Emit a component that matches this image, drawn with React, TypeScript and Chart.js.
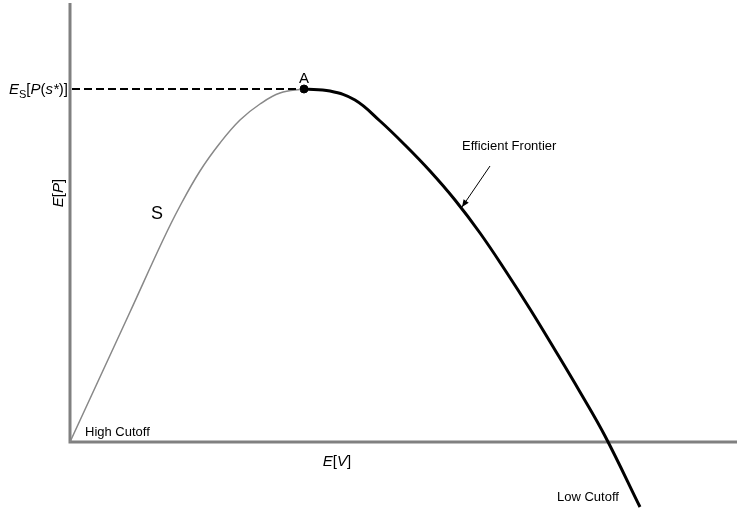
import React, { useEffect, useRef } from "react";
import { Chart, registerables } from "chart.js";

Chart.register(...registerables);

// Expected value E[V] (x) and expected profit E[P] (y), arbitrary units
const sCurveX = [0, 0.3, 0.6, 0.93, 1.1, 1.3, 1.5, 1.7, 1.9, 2.1, 2.34];
const sCurveY = [0, 0.65, 1.3, 2.02, 2.36, 2.71, 2.99, 3.22, 3.38, 3.49, 3.53];

const frontierX = [2.34, 2.6, 2.85, 3.1, 3.35, 3.6, 3.85, 4.1, 4.35, 4.6, 4.85, 5.1, 5.35, 5.7];
const frontierY = [3.53, 3.51, 3.42, 3.21, 2.97, 2.71, 2.42, 2.09, 1.72, 1.33, 0.92, 0.5, 0.06, -0.65];

// Optimum point A
const optimumX = 2.34;
const optimumY = 3.53;

const xMin = -0.7;
const xMax = 6.67;
const yMin = -0.7;
const yMax = 4.42;

const FONT = "'Liberation Sans', Arial, sans-serif";

type Seg = { t: string; italic?: boolean; size?: number; dy?: number };

function drawRich(ctx: CanvasRenderingContext2D, segs: Seg[], x: number, y: number, baseSize: number, align: "left" | "right" | "center") {
  const fontOf = (s: Seg) => `${s.italic ? "italic " : ""}${s.size ?? baseSize}px ${FONT}`;
  let total = 0;
  for (const s of segs) {
    ctx.font = fontOf(s);
    total += ctx.measureText(s.t).width;
  }
  let cx = align === "left" ? x : align === "right" ? x - total : x - total / 2;
  ctx.textAlign = "left";
  ctx.textBaseline = "alphabetic";
  for (const s of segs) {
    ctx.font = fontOf(s);
    ctx.fillText(s.t, cx, y + (s.dy ?? 0));
    cx += ctx.measureText(s.t).width;
  }
}

const annotations = {
  id: "annotations",
  beforeDatasetsDraw(chart: any) {
    const ctx: CanvasRenderingContext2D = chart.ctx;
    const xs = chart.scales.x;
    const ys = chart.scales.y;
    const x0 = xs.getPixelForValue(0);
    const y0 = ys.getPixelForValue(0);
    ctx.save();
    ctx.strokeStyle = "#808080";
    ctx.lineWidth = 3;
    ctx.beginPath();
    ctx.moveTo(x0, y0 + 1.5);
    ctx.lineTo(x0, ys.getPixelForValue(4.39));
    ctx.moveTo(x0 - 1.5, y0);
    ctx.lineTo(xs.getPixelForValue(xMax), y0);
    ctx.stroke();
    ctx.restore();
  },
  afterDatasetsDraw(chart: any) {
    const ctx: CanvasRenderingContext2D = chart.ctx;
    const xs = chart.scales.x;
    const ys = chart.scales.y;
    const px = (v: number) => xs.getPixelForValue(v);
    const py = (v: number) => ys.getPixelForValue(v);
    ctx.save();
    ctx.fillStyle = "#000";

    // Y-level label of the optimum
    drawRich(
      ctx,
      [
        { t: "E", italic: true },
        { t: "S", size: 11, dy: 4 },
        { t: "[" },
        { t: "P", italic: true },
        { t: "(" },
        { t: "s*", italic: true },
        { t: ")]" },
      ],
      px(0) - 2,
      py(optimumY) + 5,
      15,
      "right"
    );

    // Point label
    ctx.font = `15px ${FONT}`;
    ctx.textAlign = "center";
    ctx.textBaseline = "alphabetic";
    ctx.fillText("A", px(optimumX), py(optimumY) - 6);

    // Curve label
    ctx.font = `18px ${FONT}`;
    ctx.fillText("S", 157, 219);

    // Axis titles
    drawRich(ctx, [{ t: "E", italic: true }, { t: "[" }, { t: "V", italic: true }, { t: "]" }], 337, 466, 15, "center");
    ctx.save();
    ctx.translate(63, 193);
    ctx.rotate(-Math.PI / 2);
    drawRich(ctx, [{ t: "E", italic: true }, { t: "[" }, { t: "P", italic: true }, { t: "]" }], 0, 0, 15, "center");
    ctx.restore();

    // Cutoff labels
    ctx.font = `13px ${FONT}`;
    ctx.textAlign = "left";
    ctx.fillText("High Cutoff", 85, 436);
    ctx.fillText("Low Cutoff", 557, 501);
    ctx.fillText("Efficient Frontier", 462, 150);

    // Arrow pointing at the frontier
    const ax1 = 490, ay1 = 166, ax2 = 462, ay2 = 207;
    ctx.strokeStyle = "#000";
    ctx.lineWidth = 1;
    ctx.beginPath();
    ctx.moveTo(ax1, ay1);
    ctx.lineTo(ax2, ay2);
    ctx.stroke();
    const ang = Math.atan2(ay2 - ay1, ax2 - ax1);
    const hl = 8, hw = 0.4;
    ctx.beginPath();
    ctx.moveTo(ax2, ay2);
    ctx.lineTo(ax2 - hl * Math.cos(ang - hw), ay2 - hl * Math.sin(ang - hw));
    ctx.lineTo(ax2 - hl * Math.cos(ang + hw), ay2 - hl * Math.sin(ang + hw));
    ctx.closePath();
    ctx.fill();
    ctx.restore();
  },
};

export default function App() {
  const ref = useRef<HTMLCanvasElement | null>(null);

  useEffect(() => {
    document.body.style.margin = "0";
    if (!ref.current) return;
    const chart = new Chart(ref.current, {
      type: "scatter",
      data: {
        datasets: [
          {
            label: "Optimum level",
            data: [
              { x: 0.02, y: optimumY },
              { x: optimumX, y: optimumY },
            ],
            showLine: true,
            borderColor: "#000",
            borderWidth: 2,
            borderDash: [8, 4],
            pointRadius: 0,
          },
          {
            label: "S",
            data: sCurveX.map((x, i) => ({ x, y: sCurveY[i] })),
            showLine: true,
            borderColor: "#888888",
            borderWidth: 1.5,
            pointRadius: 0,
            tension: 0.4,
          },
          {
            label: "Efficient Frontier",
            data: frontierX.map((x, i) => ({ x, y: frontierY[i] })),
            showLine: true,
            borderColor: "#000",
            borderWidth: 3,
            pointRadius: 0,
            tension: 0.4,
          },
          {
            label: "A",
            data: [{ x: optimumX, y: optimumY }],
            pointRadius: 4,
            backgroundColor: "#000",
            borderColor: "#000",
          },
        ],
      },
      options: {
        responsive: false,
        devicePixelRatio: 1,
        animation: false,
        layout: { padding: 0, autoPadding: false },
        plugins: { legend: { display: false }, tooltip: { enabled: false } },
        scales: {
          x: { type: "linear", min: xMin, max: xMax, display: false },
          y: { type: "linear", min: yMin, max: yMax, display: false },
        },
      },
      plugins: [annotations],
    });
    return () => chart.destroy();
  }, []);

  return (
    <div style={{ width: 737, height: 512, background: "#fff" }}>
      <canvas ref={ref} width={737} height={512} />
    </div>
  );
}
